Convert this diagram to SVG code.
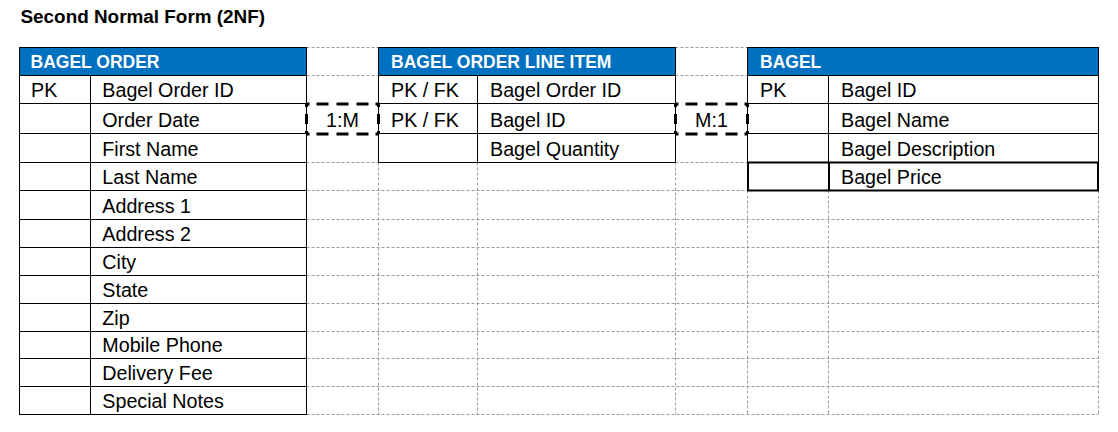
<svg xmlns="http://www.w3.org/2000/svg" width="1118" height="432" viewBox="0 0 1118 432">
<style>
.t{font-family:"Liberation Sans",Arial,sans-serif;font-size:19.7px;fill:#000}
.h{font-family:"Liberation Sans",Arial,sans-serif;font-size:17.5px;font-weight:bold;fill:#fff}
.title{font-family:"Liberation Sans",Arial,sans-serif;font-size:18.9px;font-weight:bold;fill:#000}
.grid{stroke:#9a9a9a;stroke-width:1;stroke-dasharray:3,2;fill:none}
.ln{stroke:#000;stroke-width:1;fill:none}
.hd{fill:#0070C0;stroke:#000;stroke-width:1}
.bx{fill:#fff;stroke:#000;stroke-width:1}
.cn{stroke:#000;stroke-width:3;fill:none}
</style>
<rect width="1118" height="432" fill="#fff"/>
<text class="title" x="20.5" y="22.7">Second Normal Form (2NF)</text>

<g id="gridlines">
<path class="grid" d="M306.5 47.5H378.5M306.5 75.5H378.5M675.5 47.5H747.5M675.5 75.5H747.5M306.5 162.5H378.5M675.5 162.5H747.5M306.5 190.5H747.5M306.5 219.5H1098.5M306.5 247.5H1098.5M306.5 275.5H1098.5M306.5 303.5H1098.5M306.5 331.5H1098.5M306.5 358.5H1098.5M306.5 386.5H1098.5M306.5 414.5H1098.5"/>
<path class="grid" d="M378.5 162.5V414.5M477.5 162.5V414.5M675.5 162.5V414.5M747.5 190.5V414.5M828.5 190.5V414.5M1098.5 190.5V414.5"/>
</g>

<g id="bagel-order">
<rect class="bx" x="19.5" y="47.5" width="287" height="367"/>
<rect class="hd" x="19.5" y="47.5" width="287" height="28"/>
<path class="ln" d="M90.5 75.5V414.5M19.5 103.5H306.5M19.5 133.5H306.5M19.5 162.5H306.5M19.5 190.5H306.5M19.5 219.5H306.5M19.5 247.5H306.5M19.5 275.5H306.5M19.5 303.5H306.5M19.5 331.5H306.5M19.5 358.5H306.5M19.5 386.5H306.5"/>
<text class="h" x="30.5" y="68.3">BAGEL ORDER</text>
<text class="t" x="31" y="96.8">PK</text>
<text class="t" x="102.3" y="96.8">Bagel Order ID</text>
<text class="t" x="102.3" y="126.8">Order Date</text>
<text class="t" x="102.3" y="155.8">First Name</text>
<text class="t" x="102.3" y="183.8">Last Name</text>
<text class="t" x="102.3" y="212.8">Address 1</text>
<text class="t" x="102.3" y="240.8">Address 2</text>
<text class="t" x="102.3" y="268.8">City</text>
<text class="t" x="102.3" y="296.8">State</text>
<text class="t" x="102.3" y="324.8">Zip</text>
<text class="t" x="102.3" y="351.8">Mobile Phone</text>
<text class="t" x="102.3" y="379.8">Delivery Fee</text>
<text class="t" x="102.3" y="407.8">Special Notes</text>
</g>

<g id="bagel-order-line-item">
<rect class="bx" x="378.5" y="47.5" width="297" height="115"/>
<rect class="hd" x="378.5" y="47.5" width="297" height="28"/>
<path class="ln" d="M477.5 75.5V162.5M378.5 103.5H675.5M378.5 133.5H675.5"/>
<text class="h" x="391" y="68.3">BAGEL ORDER LINE ITEM</text>
<text class="t" x="391" y="96.8">PK / FK</text>
<text class="t" x="490" y="96.8">Bagel Order ID</text>
<text class="t" x="391" y="126.8">PK / FK</text>
<text class="t" x="490" y="126.8">Bagel ID</text>
<text class="t" x="490" y="155.8">Bagel Quantity</text>
</g>

<g id="bagel">
<rect class="bx" x="747.5" y="47.5" width="351" height="143"/>
<rect class="hd" x="747.5" y="47.5" width="351" height="28"/>
<path class="ln" d="M828.5 75.5V162.5M747.5 103.5H1098.5M747.5 133.5H1098.5"/>
<rect x="748" y="162.5" width="350" height="28" fill="none" stroke="#000" stroke-width="2"/>
<path d="M829 162.5V190.5" stroke="#000" stroke-width="2"/>
<text class="h" x="760" y="68.3">BAGEL</text>
<text class="t" x="760" y="96.8">PK</text>
<text class="t" x="841" y="96.8">Bagel ID</text>
<text class="t" x="841" y="126.8">Bagel Name</text>
<text class="t" x="841" y="155.8">Bagel Description</text>
<text class="t" x="841" y="183.8">Bagel Price</text>
</g>

<g id="connectors">
<g id="rel-order-lineitem">
<path class="cn" stroke-dasharray="3,7,12,8,12,8,12,7,3" d="M306.5 104H378.5M306.5 134H378.5"/>
<path class="cn" stroke-dasharray="3,7,10,7,3" d="M306.5 104V134M378.5 104V134"/>
<text class="t" x="342.5" y="127" text-anchor="middle">1:M</text>
</g>
<g id="rel-lineitem-bagel">
<path class="cn" stroke-dasharray="3,7,12,8,12,8,12,7,3" d="M675.5 104H747.5M675.5 134H747.5"/>
<path class="cn" stroke-dasharray="3,7,10,7,3" d="M675.5 104V134M747.5 104V134"/>
<text class="t" x="711.5" y="127" text-anchor="middle">M:1</text>
</g>
</g>
</svg>
